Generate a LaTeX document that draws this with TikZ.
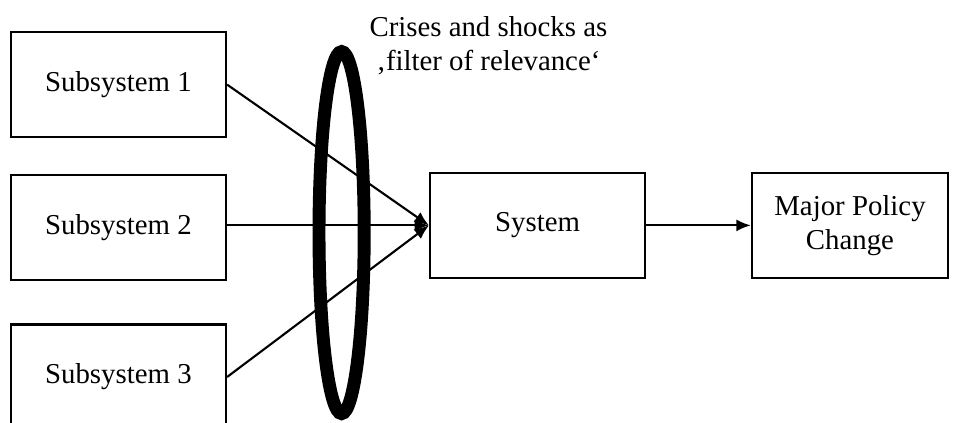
\documentclass[tikz,border=0pt]{standalone}
\usepackage{fontspec}
\setmainfont{Liberation Serif}
\usetikzlibrary{shapes.geometric,positioning,arrows.meta}

\begin{document}
\begin{tikzpicture}[
  blockbox/.style={draw, line width=1.7pt, minimum width=5.375cm, minimum height=2.625cm, align=center, font=\fontsize{20.5}{24.5}\selectfont},
  flow/.style={line width=1.5pt, -{Latex[length=0.36cm, width=0.3cm]}}
]
  \useasboundingbox (0, 0) rectangle (23.85, 10.575);

  % Subsystems
  \node[blockbox] (sub1) at (2.96, 8.46) {Subsystem 1};
  \node[blockbox] (sub2) at (2.96, 4.88) {Subsystem 2};
  \node[blockbox] (sub3) at (2.96, 1.15) {Subsystem 3};

  % System and outcome
  \node[blockbox] (system) at (13.44, 4.94) {System};
  \node[blockbox, minimum width=4.9cm] (change) at (21.25, 4.94) {Major Policy\\Change};

  % Filter
  \node[draw, ellipse, line width=9.2pt, minimum width=1.13cm, minimum height=9.05cm, inner sep=0pt] (filter) at (8.54, 4.76) {};
  \node[align=center, font=\fontsize{20.5}{24.5}\selectfont] (filterlabel) at (12.21, 9.43) {Crises and shocks as\\‚filter of relevance‘};

  % Connectors
  \draw[flow] (sub1.east) -- (system.west);
  \draw[flow] (sub2.east |- system.west) -- (system.west);
  \draw[flow] (sub3.east) -- (system.west);
  \draw[flow] (system.east) -- (change.west);
\end{tikzpicture}
\end{document}
